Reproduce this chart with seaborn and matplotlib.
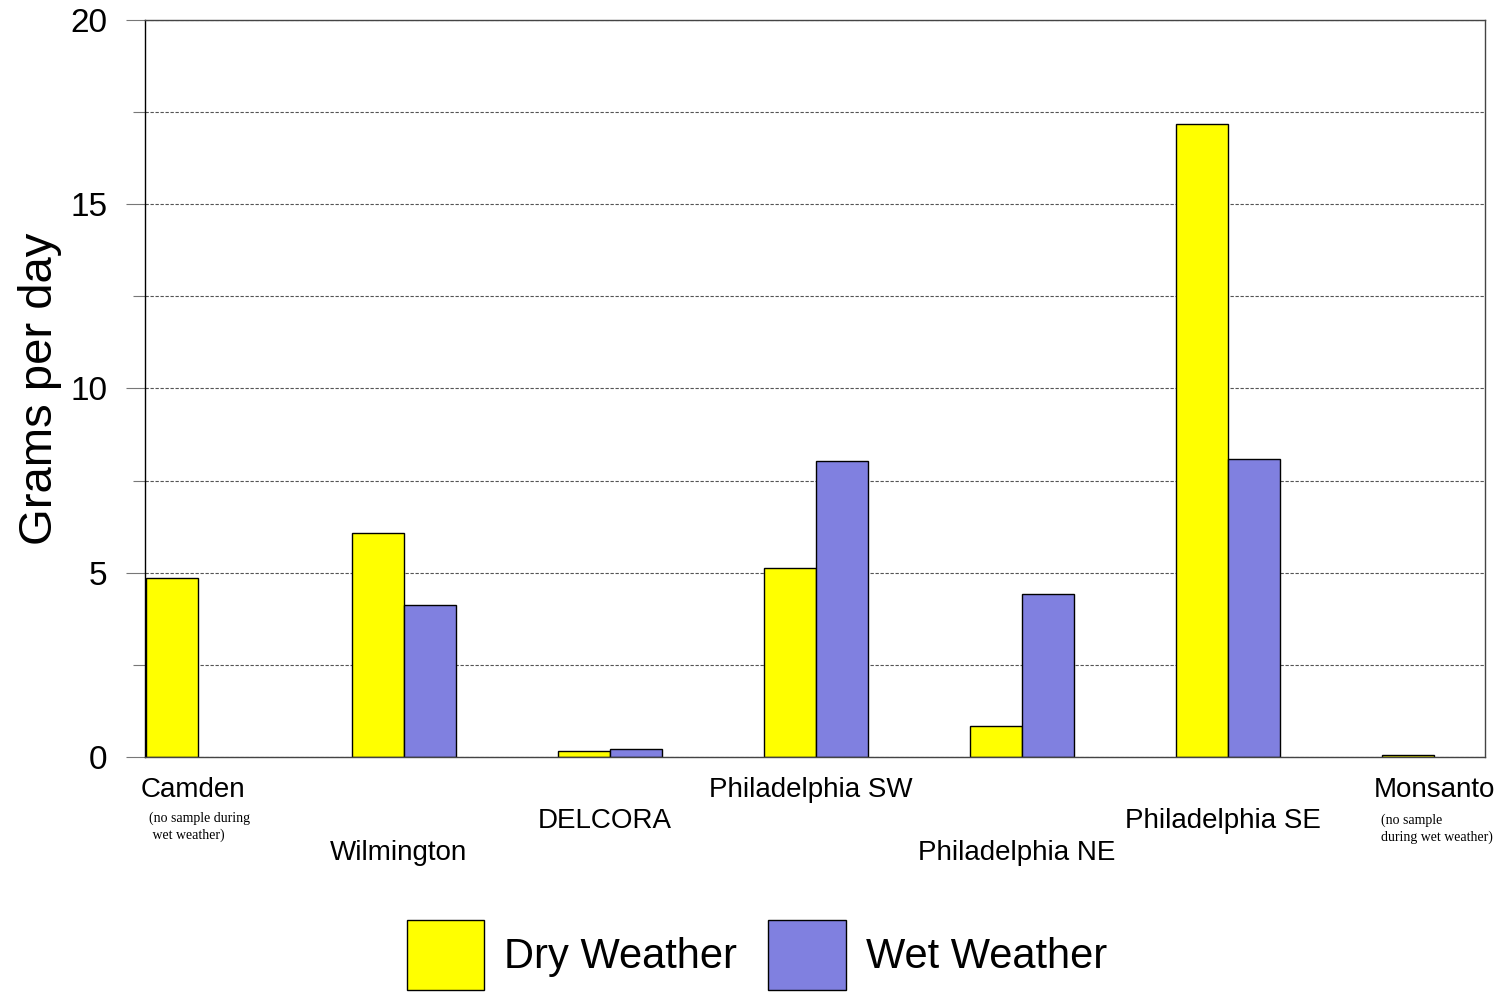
import numpy as np
import pandas as pd
import matplotlib
matplotlib.use("Agg")
import matplotlib.pyplot as plt
import matplotlib.transforms as mtransforms
import seaborn as sns

# data
sites = ["Camden", "Wilmington", "DELCORA", "Philadelphia SW",
         "Philadelphia NE", "Philadelphia SE", "Monsanto"]
dry_weather = [4.86, 6.08, 0.16, 5.13, 0.84, 17.18, 0.05]
wet_weather = [np.nan, 4.12, 0.22, 8.03, 4.42, 8.09, np.nan]
series_names = ["Dry Weather", "Wet Weather"]
label_rows = [0, 2, 1, 0, 2, 1, 0]
notes = {"Camden": "(no sample during\n wet weather)",
         "Monsanto": "(no sample\nduring wet weather)"}
y_ticks = [0, 5, 10, 15, 20]

df = pd.DataFrame({
    "site": sites * 2,
    "weather": [series_names[0]] * len(sites) + [series_names[1]] * len(sites),
    "grams": dry_weather + wet_weather,
})

sns.set_style("white")
plt.rcParams["font.family"] = ["Liberation Sans", "DejaVu Sans"]
plt.rcParams["text.color"] = "black"

fig = plt.figure(figsize=(14.99, 9.93), dpi=100)
ax = fig.add_axes([0.0967, 0.2377, 0.894, 0.7422])

palette = {"Dry Weather": "#FFFF00", "Wet Weather": "#8080E0"}
sns.barplot(data=df, x="site", y="grams", hue="weather", order=sites,
            hue_order=series_names, palette=palette, width=0.505,
            errorbar=None, edgecolor="black", linewidth=1.0, saturation=1,
            ax=ax, legend=False)

ax.set_xlim(-0.257, 6.248)
ax.set_ylim(0, 20)
ax.set_yticks(y_ticks)
ax.set_yticks([2.5, 7.5, 12.5, 17.5], minor=True)
ax.yaxis.grid(True, which="both", linestyle=(0, (3, 1.5)), color="#555555", linewidth=0.8)
ax.set_axisbelow(True)
ax.tick_params(axis="y", which="major", direction="out", length=14, width=0.8,
               color="#777777", labelcolor="black", labelsize=24, pad=13, left=True)
ax.tick_params(axis="y", which="minor", direction="out", length=9, width=0.8,
               color="#777777", left=True)
ax.tick_params(axis="x", bottom=False, labelbottom=False)
ax.set_xlabel("")
ax.set_ylabel("")
for side in ["left", "bottom", "top", "right"]:
    ax.spines[side].set_visible(True)
    ax.spines[side].set_linewidth(1.0)
ax.spines["left"].set_color("black")
for side in ["bottom", "top", "right"]:
    ax.spines[side].set_color("#444444")

# staggered category labels below the axis
trans = mtransforms.blended_transform_factory(ax.transData, ax.transAxes)
row_y = [-33 / 737, -64 / 737, -96 / 737]
for i, (name, row) in enumerate(zip(sites, label_rows)):
    shift = 0.0 if i == len(sites) - 1 else -0.025
    ax.text(i + shift, row_y[row], name, transform=trans, ha="center",
            va="center", fontsize=20, color="black")

ax.text(-0.238, -70 / 737, notes["Camden"], transform=trans, ha="left",
        va="center", fontsize=10, family="Liberation Serif", linespacing=1.3)
ax.text(5.743, -72 / 737, notes["Monsanto"], transform=trans, ha="left",
        va="center", fontsize=10, family="Liberation Serif", linespacing=1.35)

fig.text(40 / 1499, 1 - 389 / 993, "Grams per day", rotation=90,
         ha="center", va="center", fontsize=34, color="black")

handles = [plt.Rectangle((0, 0), 1, 1, facecolor=palette[n], edgecolor="black",
                         linewidth=1.0) for n in series_names]
fig.legend(handles, series_names, loc="center", bbox_to_anchor=(0.505, 0.038),
           ncol=2, frameon=False, fontsize=30, handlelength=1.87,
           handleheight=2.2, handletextpad=0.48, columnspacing=0.74)

fig.savefig("out.png", dpi=100)
